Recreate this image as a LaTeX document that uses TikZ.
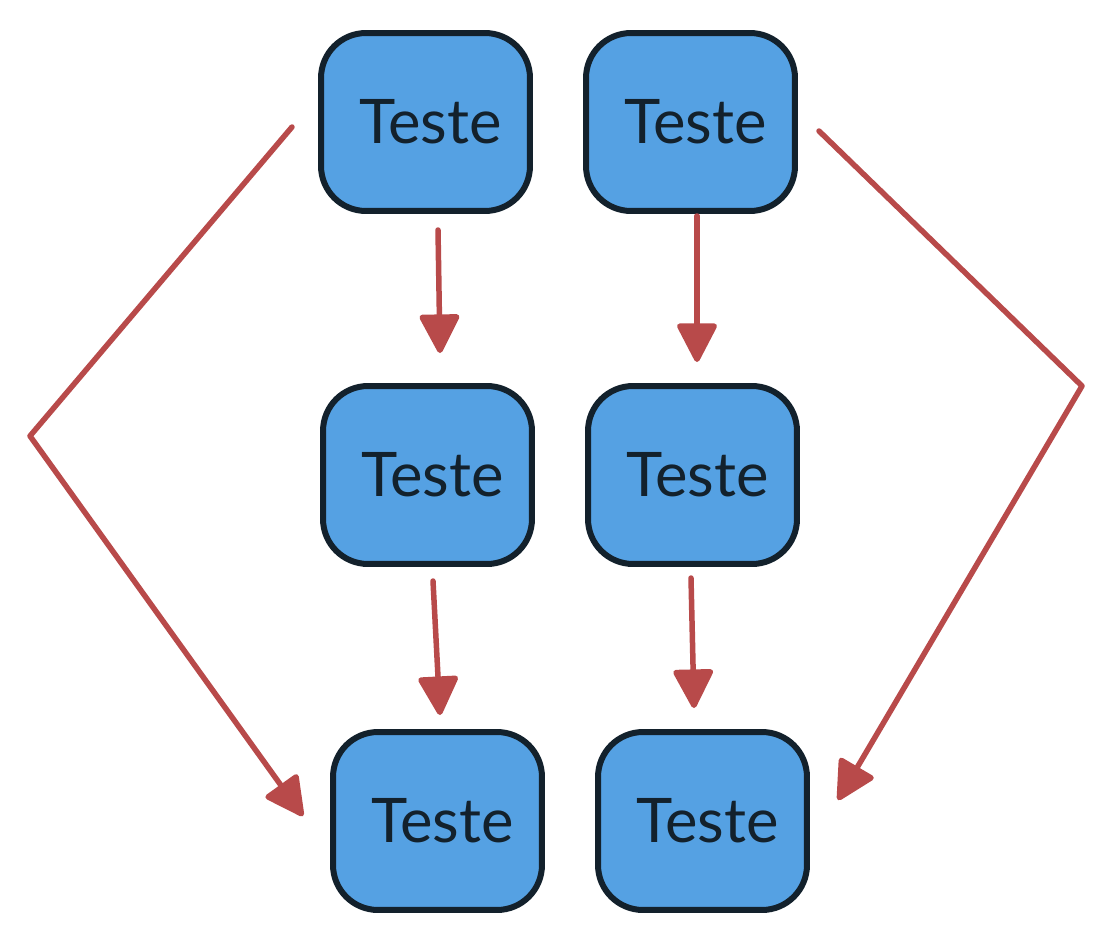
\documentclass[tikz,border=0pt]{standalone}
\usepackage{fontspec}
\setmainfont{Lato}
\usetikzlibrary{arrows.meta}
\definecolor{boxfill}{HTML}{55A1E3}
\definecolor{boxline}{HTML}{13212C}
\definecolor{arrowred}{HTML}{B84A4A}

\begin{document}
\begin{tikzpicture}[x=0.02cm,y=-0.02cm,
  box/.style = {draw=boxline,fill=boxfill,line width=0.12cm,rounded corners=0.9cm,
                minimum width=4.18cm,minimum height=3.56cm,inner sep=0pt,
                text=boxline,font=\fontsize{35}{42}\selectfont},
  link/.style = {draw=arrowred,line width=0.11cm,line cap=round,line join=round,
                 -{Triangle[round,length=0.84cm,width=0.84cm]}}]
\useasboundingbox (0,0) rectangle (1112,943);

\node[box] (a) at (425.5,122) {\hspace{6pt}Teste};
\node[box] (b) at (690.5,122) {\hspace{6pt}Teste};
\node[box] (c) at (427.5,475) {\hspace{6pt}Teste};
\node[box] (d) at (692.5,475) {\hspace{6pt}Teste};
\node[box] (e) at (437.5,821) {\hspace{6pt}Teste};
\node[box] (f) at (702.5,821) {\hspace{6pt}Teste};

\coordinate (a1) at (438,230);
\coordinate (c0) at (440,353);
\coordinate (b1) at (697,216);
\coordinate (d0) at (697,362);
\coordinate (c1) at (433,581);
\coordinate (e0) at (440,715);
\coordinate (d1) at (691,578);
\coordinate (f0) at (694,708);
\coordinate (al) at (292,127);
\coordinate (lt) at (30,436);
\coordinate (el) at (303,816);
\coordinate (br) at (819,131);
\coordinate (rt) at (1082,386);
\coordinate (fr) at (838,800);

\draw[link] (a1) -- (c0);
\draw[link] (b1) -- (d0);
\draw[link] (c1) -- (e0);
\draw[link] (d1) -- (f0);
\draw[link] (al) -- (lt) -- (el);
\draw[link] (br) -- (rt) -- (fr);
\end{tikzpicture}
\end{document}
